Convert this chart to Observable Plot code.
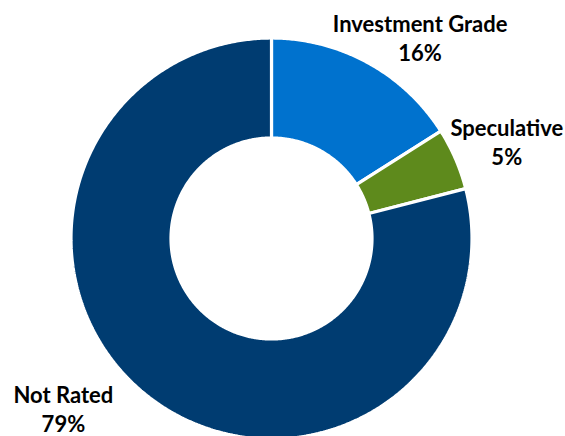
<!DOCTYPE html>
<html>
<head>
<meta charset="utf-8">
<script src="https://cdn.jsdelivr.net/npm/d3@7"></script>
<script src="https://cdn.jsdelivr.net/npm/@observablehq/plot@0.6"></script>
<style>
  html, body { margin: 0; padding: 0; background: #fff; }
  #chart svg { display: block; }
</style>
</head>
<body>
<div id="chart"></div>
<script>
// Data
const categories = ["Investment Grade", "Speculative", "Not Rated"];
const shares = [16, 5, 79];
const valueLabels = ["16%", "5%", "79%"];
const colors = ["#0072CE", "#5E8A1C", "#003C71"];
// label nudges (pixels) relative to a point outside each slice's mid-angle
const labelDx = [33, 15, -61];
const labelDy = [9, -2, -20];

const R_OUT = 200.5, R_IN = 100.5, R_LABEL = 240;
const total = d3.sum(shares);

// build slice outlines from the data
const pts = [];
const labels = [];
let cum = 0;
categories.forEach((c, i) => {
  const a0 = cum / total * 2 * Math.PI;
  cum += shares[i];
  const a1 = cum / total * 2 * Math.PI;
  const n = Math.max(4, Math.ceil((a1 - a0) / (Math.PI / 360)));
  const ring = [];
  for (let k = 0; k <= n; k++) {
    const a = a0 + (a1 - a0) * k / n;
    ring.push({cat: c, x: R_OUT * Math.sin(a), y: R_OUT * Math.cos(a)});
  }
  for (let k = n; k >= 0; k--) {
    const a = a0 + (a1 - a0) * k / n;
    ring.push({cat: c, x: R_IN * Math.sin(a), y: R_IN * Math.cos(a)});
  }
  ring.push({...ring[0]});
  pts.push(...ring);
  const am = (a0 + a1) / 2;
  labels.push({cat: c, text: c + "\n" + valueLabels[i], x: R_LABEL * Math.sin(am), y: R_LABEL * Math.cos(am), dx: labelDx[i], dy: labelDy[i]});
});

const textMarks = labels.map(l => Plot.text([l], {
  x: "x", y: "y", text: "text", dx: l.dx, dy: l.dy,
  fontFamily: "Lato, 'Open Sans', sans-serif", fontWeight: "bold", fontSize: 22,
  lineHeight: 1.32, lineAnchor: "middle", textAnchor: "middle", fill: "#000"
}));

const chart = Plot.plot({
  width: 565, height: 436,
  margin: 0,
  x: {domain: [-271, 294], range: [0, 565], axis: null},
  y: {domain: [-198, 238], range: [436, 0], axis: null},
  color: {domain: categories, range: colors},
  style: {background: "#fff", overflow: "visible"},
  marks: [
    Plot.line(pts, {x: "x", y: "y", z: "cat", fill: "cat", stroke: "#fff", strokeWidth: 3.2, strokeLinejoin: "miter", curve: "linear"}),
    ...textMarks
  ]
});
document.getElementById("chart").appendChild(chart);
</script>
</body>
</html>
